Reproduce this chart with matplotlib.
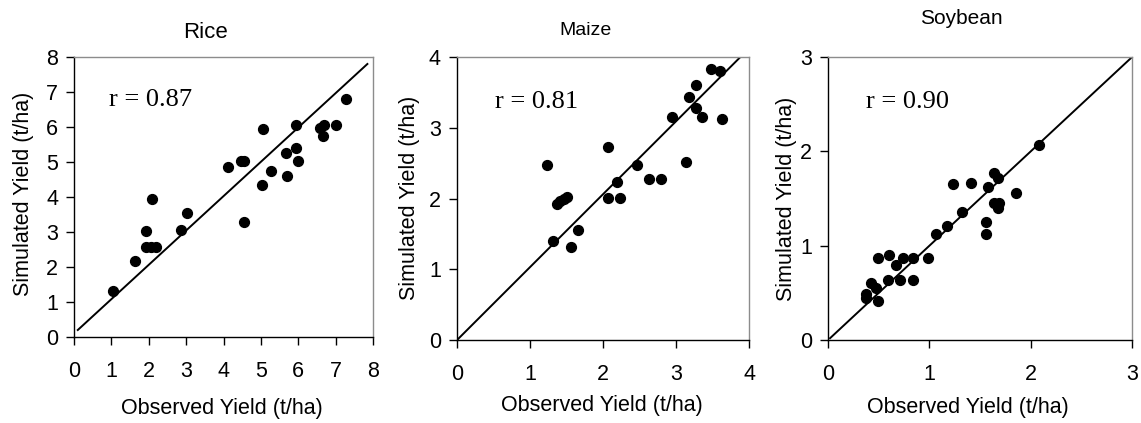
import matplotlib
matplotlib.use("Agg")
import matplotlib.pyplot as plt

# observed / simulated yields (t/ha)
rice_obs = [1.04, 1.63, 1.92, 1.92, 2.05, 2.18, 2.09, 2.85, 3.02, 4.13, 4.46, 4.56,
            4.54, 5.03, 5.06, 5.27, 5.66, 5.70, 5.94, 5.94, 5.99, 6.59, 6.68, 6.66,
            7.00, 7.28]
rice_sim = [1.32, 2.18, 3.02, 2.57, 2.57, 2.57, 3.94, 3.06, 3.55, 4.87, 5.04, 5.04,
            3.28, 4.34, 5.93, 4.74, 5.27, 4.61, 5.41, 6.05, 5.04, 5.98, 6.05, 5.75,
            6.05, 6.81]

maize_obs = [1.23, 1.32, 1.37, 1.41, 1.46, 1.50, 1.56, 1.66, 2.07, 2.07, 2.19, 2.23,
             2.46, 2.63, 2.79, 2.95, 3.14, 3.18, 3.28, 3.28, 3.36, 3.48, 3.60, 3.63]
maize_sim = [2.48, 1.40, 1.92, 1.96, 1.99, 2.02, 1.31, 1.55, 2.73, 2.01, 2.23, 2.01,
             2.48, 2.28, 2.28, 3.15, 2.52, 3.44, 3.61, 3.28, 3.15, 3.83, 3.81, 3.13]

soy_obs = [0.37, 0.37, 0.42, 0.47, 0.49, 0.49, 0.59, 0.60, 0.67, 0.71, 0.74, 0.84,
           0.84, 0.99, 1.07, 1.17, 1.23, 1.32, 1.41, 1.56, 1.56, 1.58, 1.64, 1.64,
           1.68, 1.68, 1.69, 1.86, 2.08]
soy_sim = [0.49, 0.45, 0.60, 0.55, 0.87, 0.41, 0.64, 0.90, 0.80, 0.64, 0.87, 0.87,
           0.64, 0.87, 1.12, 1.21, 1.66, 1.36, 1.67, 1.25, 1.12, 1.62, 1.77, 1.45,
           1.72, 1.40, 1.45, 1.56, 2.07]

titles = ["Rice", "Maize", "Soybean"]
r_values = ["0.87", "0.81", "0.90"]
limits = [8, 4, 3]
one_to_one = [([0.1, 7.85], [0.2, 7.8]), ([0, 3.88], [0, 4.0]), ([0.02, 3.0], [0.02, 3.0])]

plt.rcParams["font.family"] = ["Liberation Sans", "DejaVu Sans"]

fig = plt.figure(figsize=(11.41, 4.23), dpi=100)
rects = [[0.0649, 0.2033, 0.2620, 0.662],
         [0.4005, 0.1960, 0.2560, 0.669],
         [0.7257, 0.1960, 0.2664, 0.669]]
title_y = [1.089, 1.095, 1.138]
r_pos = [(0.117, 0.846), (0.13, 0.842), (0.125, 0.842)]
xlab_pos = [(0.494, -0.257), (0.497, -0.23), (0.459, -0.239)]
ylab_pos = [(-0.17, 0.51), (-0.161, 0.503), (-0.136, 0.50)]
title_size = [16, 14, 15]

data = [(rice_obs, rice_sim), (maize_obs, maize_sim), (soy_obs, soy_sim)]

for i in range(3):
    ax = fig.add_axes(rects[i])
    obs, sim = data[i]
    lim = limits[i]
    ax.scatter(obs, sim, s=50, color="black", zorder=3, clip_on=False)
    ax.plot(one_to_one[i][0], one_to_one[i][1], color="black", lw=1.4)
    ax.set_xlim(0, lim)
    ax.set_ylim(0, lim)
    ax.set_xticks(range(lim + 1))
    ax.set_yticks(range(lim + 1))
    ax.tick_params(axis="both", direction="out", length=5.5, width=1, labelsize=15.5)
    ax.tick_params(axis="x", pad=12)
    ax.tick_params(axis="y", pad=6)
    for side in ["top", "right"]:
        ax.spines[side].set_color("#8c8c8c")
        ax.spines[side].set_linewidth(1)
    for side in ["left", "bottom"]:
        ax.spines[side].set_linewidth(1)
    ax.text(0.44, title_y[i], titles[i], transform=ax.transAxes,
            ha="center", va="center", fontsize=title_size[i])
    ax.text(r_pos[i][0], r_pos[i][1], "r = " + r_values[i], transform=ax.transAxes,
            ha="left", va="center", fontsize=19, family="Liberation Serif")
    ax.set_xlabel("Observed Yield (t/ha)", fontsize=15.5)
    ax.set_ylabel("Simulated Yield (t/ha)", fontsize=15.5)
    ax.xaxis.set_label_coords(*xlab_pos[i])
    ax.yaxis.set_label_coords(*ylab_pos[i])
    ax.xaxis.label.set_va("center")
    ax.yaxis.label.set_va("center")

fig.savefig("out.png", dpi=100)
